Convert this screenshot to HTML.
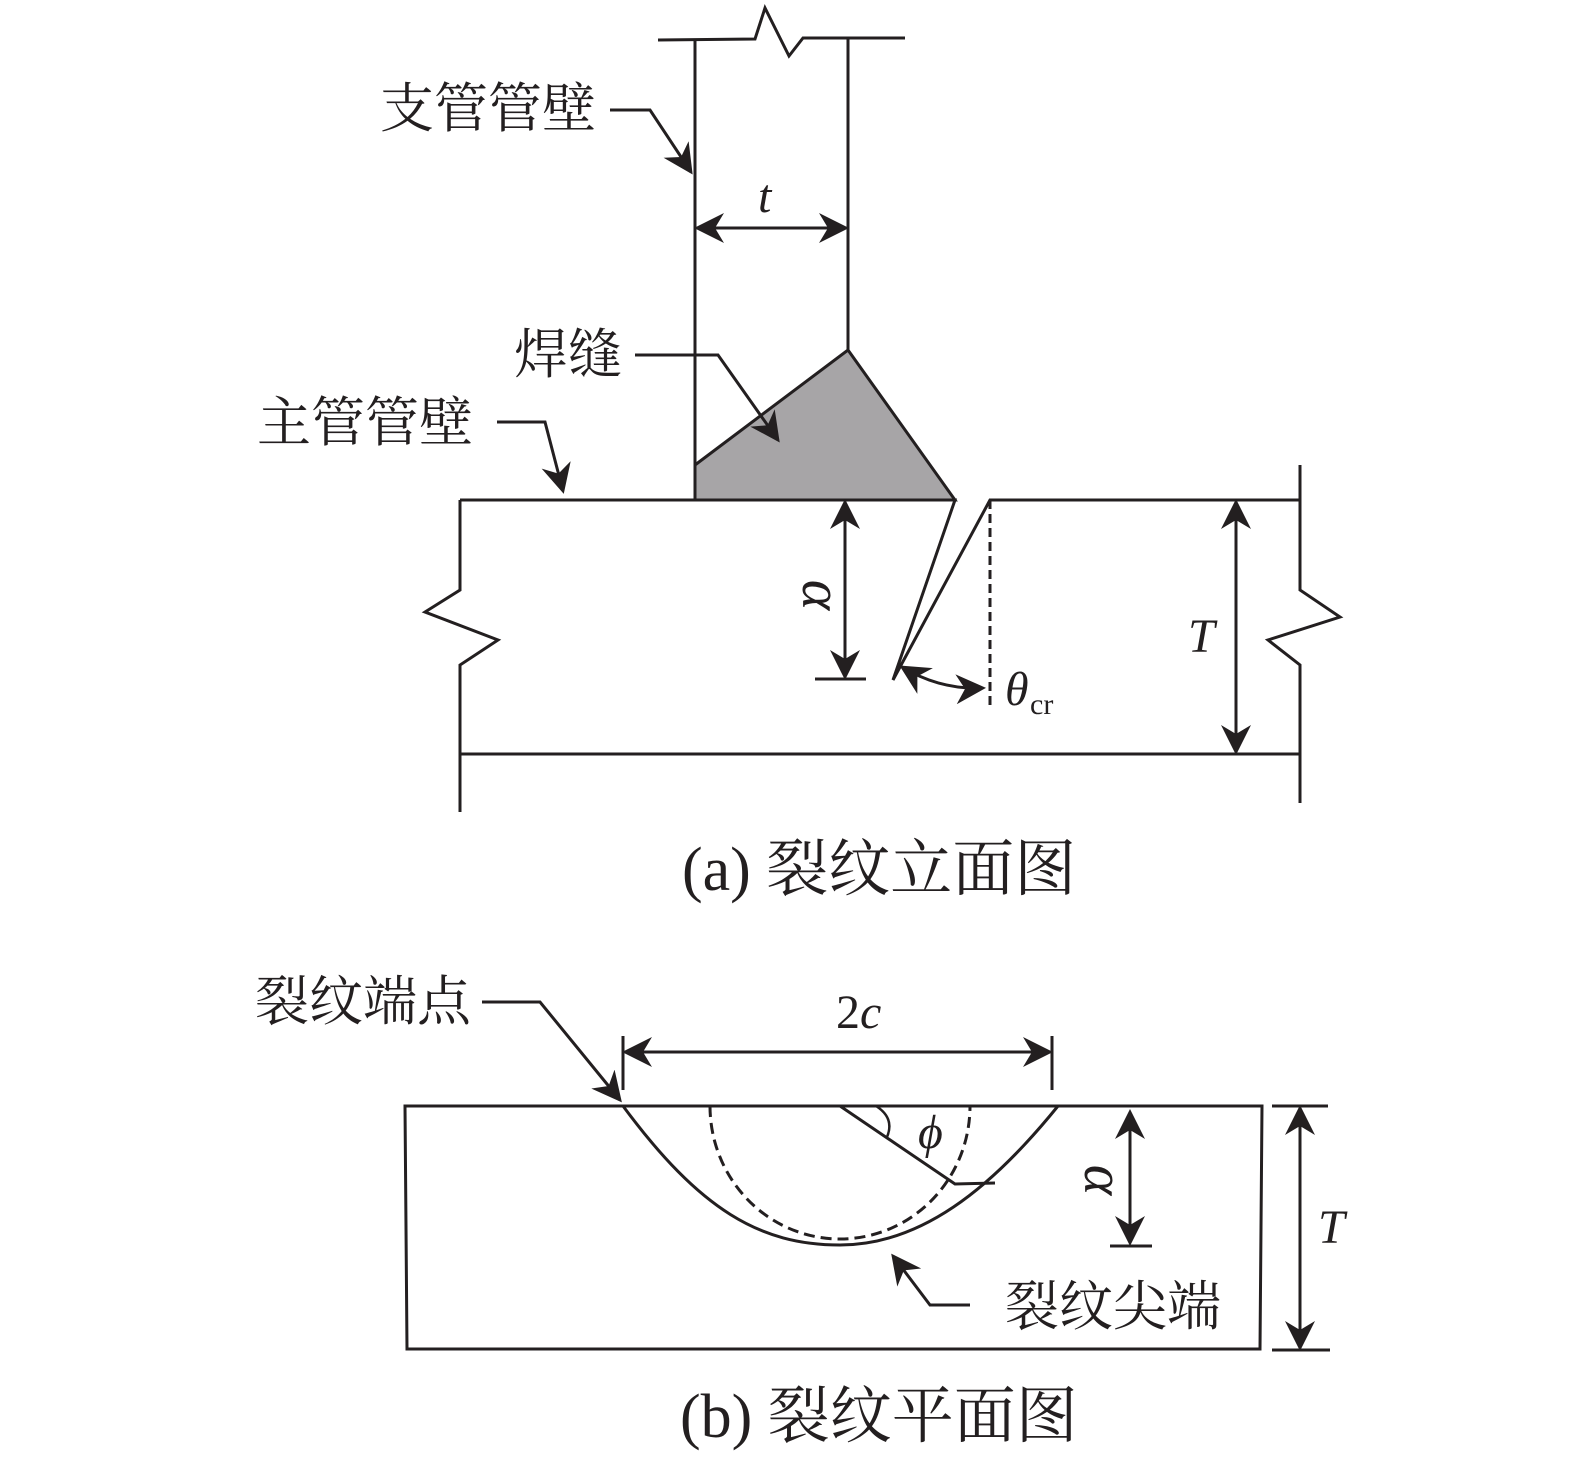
<!DOCTYPE html>
<html><head><meta charset="utf-8"><style>
html,body{margin:0;padding:0;background:#fff;}
svg{display:block;}
text{font-family:"Liberation Serif","Noto Serif CJK SC","Noto Sans CJK SC",serif;fill:#231f20;}
</style></head><body>
<svg width="1575" height="1467" viewBox="0 0 1575 1467" xmlns="http://www.w3.org/2000/svg">
<defs>
<marker id="a2" viewBox="0 0 10 10" refX="9" refY="5" markerWidth="30" markerHeight="30" markerUnits="userSpaceOnUse" orient="auto-start-reverse">
<path d="M0,0 L10,5 L0,10 L3,5 z" fill="#231f20"/></marker>
</defs>
<g stroke="#231f20" stroke-width="3" fill="none" stroke-linejoin="miter">
<polyline points="658,40 755,39 765,8 789,56 803,38 905,38"/>
<line x1="695" y1="40" x2="695" y2="500"/>
<line x1="848" y1="38" x2="848" y2="350"/>
<polygon points="695,465 848,350 955,500 695,500" fill="#a7a5a7"/>
<polyline points="460,500 955,500 893,680 990,500 1300,500"/>
<line x1="990" y1="500" x2="990" y2="705" stroke-dasharray="9,5"/>
<polyline points="460,500 460,590 425,612 498,640 460,665 460,812"/>
<polyline points="1300,465 1300,590 1340,617 1268,640 1300,665 1300,803"/>
<line x1="460" y1="754" x2="1300" y2="754"/>
<line x1="697" y1="228" x2="846" y2="228" marker-start="url(#a2)" marker-end="url(#a2)"/>
<line x1="845" y1="502" x2="845" y2="677" marker-start="url(#a2)" marker-end="url(#a2)"/>
<line x1="815" y1="679" x2="866" y2="679"/>
<line x1="1236" y1="502" x2="1236" y2="752" marker-start="url(#a2)" marker-end="url(#a2)"/>
<path d="M902,667 Q940,690 983,688" marker-start="url(#a2)" marker-end="url(#a2)"/>
<polyline points="610,110 650,110 691,172" marker-end="url(#a2)"/>
<polyline points="635,355 718,355 778,440" marker-end="url(#a2)"/>
<polyline points="497,422 545,422 563,491" marker-end="url(#a2)"/>
<polygon points="405,1106 1262,1106 1260,1349 407,1349"/>
<path d="M623,1106 C700,1210 760,1245 840,1245 C920,1245 990,1190 1058,1106"/>
<path d="M710,1106 A130,133 0 0 0 970,1106" stroke-dasharray="11,6"/>
<polyline points="840,1106 955,1184 995,1183"/>
<path d="M876,1106 Q895,1118 887,1137" stroke-width="2.5"/>
<line x1="625" y1="1052" x2="1050" y2="1052" marker-start="url(#a2)" marker-end="url(#a2)"/>
<line x1="623" y1="1036" x2="623" y2="1090"/>
<line x1="1052" y1="1036" x2="1052" y2="1090"/>
<line x1="1130" y1="1112" x2="1130" y2="1243" marker-start="url(#a2)" marker-end="url(#a2)"/>
<line x1="1110" y1="1246" x2="1152" y2="1246"/>
<line x1="1300" y1="1108" x2="1300" y2="1348" marker-start="url(#a2)" marker-end="url(#a2)"/>
<line x1="1272" y1="1106" x2="1328" y2="1106"/>
<line x1="1272" y1="1350" x2="1330" y2="1350"/>
<polyline points="482,1002 540,1002 620,1100" marker-end="url(#a2)"/>
<polyline points="970,1305 930,1305 893,1256" marker-end="url(#a2)"/>
</g>
<g font-size="54">
<text x="380" y="127">支管管壁</text>
<text x="514" y="373">焊缝</text>
<text x="257" y="441">主管管壁</text>
<text x="255" y="1020">裂纹端点</text>
<text x="1005" y="1325">裂纹尖端</text>
<text x="682" y="890" font-size="62">(a) 裂纹立面图</text>
<text x="680" y="1437" font-size="62">(b) 裂纹平面图</text>
</g>
<g font-style="italic" font-size="48">
<text x="758" y="212">t</text>
<text x="1188" y="652">T</text>
<text x="1318" y="1243">T</text>
<text x="1005" y="705">θ</text>
<text x="918" y="1148">ϕ</text>
<text x="836" y="1028" font-style="normal">2<tspan font-style="italic">c</tspan></text>
<text transform="translate(803,595) rotate(90)" text-anchor="middle" font-size="58">α</text>
<text transform="translate(1085,1180) rotate(90)" text-anchor="middle" font-size="58">α</text>
</g>
<text x="1030" y="714" font-size="30">cr</text>
</svg>
</body></html>
